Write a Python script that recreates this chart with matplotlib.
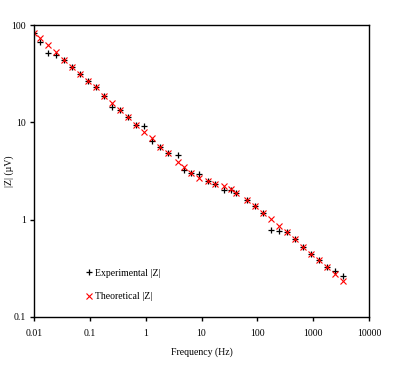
import matplotlib
matplotlib.use("Agg")
import matplotlib.pyplot as plt
from matplotlib.ticker import NullLocator, FixedFormatter, FixedLocator

# frequency (Hz)
freq = [0.01, 0.0128, 0.0178, 0.0248, 0.0345, 0.048, 0.0667, 0.0927, 0.129, 0.179,
        0.249, 0.347, 0.483, 0.671, 0.934, 1.30, 1.81, 2.51, 3.75, 4.80,
        6.57, 9.15, 12.9, 17.7, 25.0, 34.2, 41.0, 66.2, 92.1, 126.5,
        178, 248, 340, 479, 658, 927, 1273, 1772, 2494, 3467]

# |Z| in uV
z_exp = [82.2, 66.9, 51.2, 48.9, 43.4, 37.4, 31.4, 26.6, 22.9, 18.8,
         14.4, 13.3, 11.3, 9.5, 9.23, 6.38, 5.62, 4.79, 4.58, 3.24,
         2.99, 2.92, 2.49, 2.34, 2.03, 2.03, 1.89, 1.60, 1.38, 1.18,
         0.784, 0.771, 0.742, 0.628, 0.527, 0.447, 0.382, 0.324, 0.299, 0.264]

z_theo = [82.2, 73.0, 61.8, 52.4, 43.4, 37.4, 31.4, 26.6, 22.9, 18.8,
          15.9, 13.3, 11.3, 9.5, 7.96, 6.86, 5.62, 4.79, 3.88, 3.45,
          2.99, 2.70, 2.49, 2.34, 2.20, 2.05, 1.89, 1.60, 1.38, 1.18,
          1.02, 0.867, 0.742, 0.628, 0.527, 0.447, 0.382, 0.324, 0.275, 0.236]

xticks = [0.01, 0.1, 1, 10, 100, 1000, 10000]
xticklabels = ['0.01', '0.1', '1', '10', '100', '1000', '10000']
yticks = [0.1, 1, 10, 100]
yticklabels = ['0.1', '1', '10', '100']

plt.rcParams['font.family'] = ['Liberation Serif', 'DejaVu Serif']
plt.rcParams['font.size'] = 7

fig = plt.figure(figsize=(4.02, 3.68), dpi=100)
ax = fig.add_axes([0.0846, 0.1386, 0.9179 - 0.0846, 0.932 - 0.1386])

ax.plot(freq, z_exp, linestyle='none', marker='+', color='black',
        markersize=5, markeredgewidth=0.9, label='Experimental |Z|')
ax.plot(freq, z_theo, linestyle='none', marker='x', color='red',
        markersize=4.5, markeredgewidth=0.8, label='Theoretical |Z|')

ax.set_xscale('log')
ax.set_yscale('log')
ax.set_xlim(0.01, 10000)
ax.set_ylim(0.1, 100)

ax.xaxis.set_major_locator(FixedLocator(xticks))
ax.xaxis.set_major_formatter(FixedFormatter(xticklabels))
ax.xaxis.set_minor_locator(NullLocator())
ax.yaxis.set_major_locator(FixedLocator(yticks))
ax.yaxis.set_major_formatter(FixedFormatter(yticklabels))
ax.yaxis.set_minor_locator(NullLocator())
ax.tick_params(axis='x', direction='out', length=3, width=1, labelsize=7, pad=6)
ax.tick_params(axis='y', direction='out', length=3, width=1, labelsize=7, pad=3)

for s in ax.spines.values():
    s.set_linewidth(1)

ax.set_xlabel('Frequency (Hz)', fontsize=7)
ax.set_ylabel('|Z| (µV)', fontsize=7)
# place axis titles where the reference has them (in axes fractions)
ax.xaxis.set_label_coords(0.5, -0.105)
ax.yaxis.set_label_coords(-0.06, 0.5)

ax.legend(loc='lower left', bbox_to_anchor=(0.13, 0.025), frameon=False,
          fontsize=7, handlelength=0.6, handletextpad=0.3, labelspacing=1.45)

fig.savefig('out.png', dpi=100)
